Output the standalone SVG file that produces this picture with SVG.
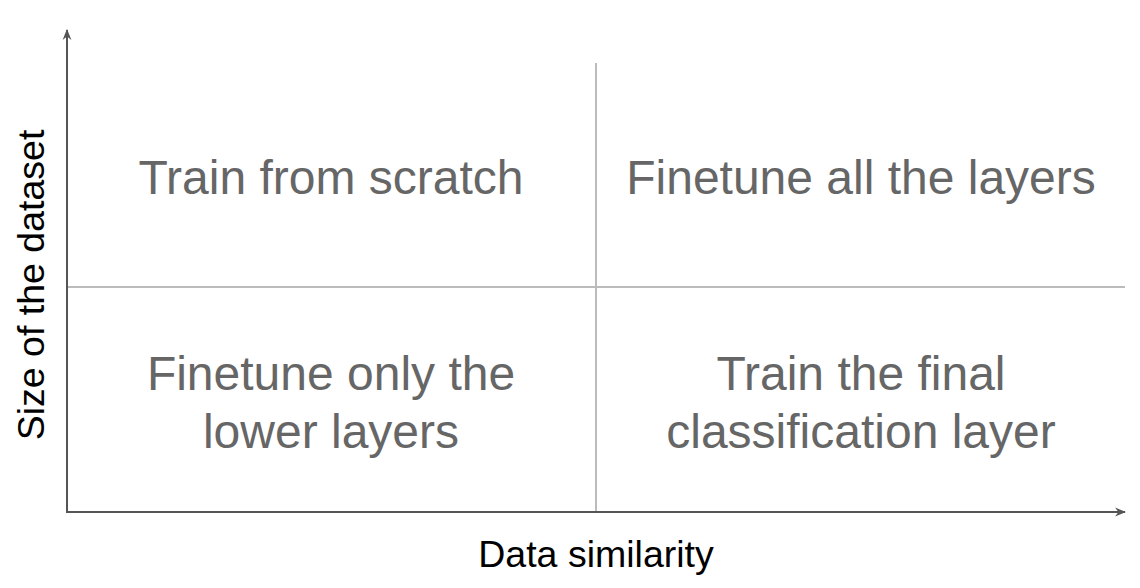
<svg xmlns="http://www.w3.org/2000/svg" width="1140" height="588" viewBox="0 0 1140 588">
  <style>
    .quad { font-family: "Liberation Sans", Arial, sans-serif; font-size: 48px; fill: #666666; text-anchor: middle; }
    .axis-label { font-family: "Liberation Sans", Arial, sans-serif; font-size: 37.5px; fill: #000000; text-anchor: middle; }
    .axis { stroke: #555555; stroke-width: 2; fill: none; }
    .grid { stroke: #bbbbbb; stroke-width: 2; fill: none; }
  </style>
  <defs>
    <marker id="arrow" viewBox="0 0 10 10" refX="9" refY="5" markerWidth="5.5" markerHeight="5.5" orient="auto" markerUnits="strokeWidth">
      <path d="M0,1 L10,5 L0,9 L3,5 Z" fill="#555555"/>
    </marker>
  </defs>
  <rect width="1140" height="588" fill="#ffffff"/>

  <g id="connectors">
    <line class="grid" x1="596" y1="63" x2="596" y2="512"/>
    <line class="grid" x1="67" y1="287" x2="1125" y2="287"/>
    <line class="axis" x1="67" y1="512" x2="67" y2="30" marker-end="url(#arrow)"/>
    <line class="axis" x1="66" y1="512" x2="1125" y2="512" marker-end="url(#arrow)"/>
  </g>

  <g id="train-from-scratch">
    <text class="quad" x="331" y="194">Train from scratch</text>
  </g>
  <g id="finetune-all">
    <text class="quad" x="861" y="194">Finetune all the layers</text>
  </g>
  <g id="finetune-lower">
    <text class="quad" x="331" y="390">Finetune only the</text>
    <text class="quad" x="331" y="448">lower layers</text>
  </g>
  <g id="train-final">
    <text class="quad" x="861" y="390">Train the final</text>
    <text class="quad" x="861" y="448">classification layer</text>
  </g>

  <g id="x-axis-label">
    <text class="axis-label" x="596" y="567">Data similarity</text>
  </g>
  <g id="y-axis-label">
    <text class="axis-label" transform="translate(44,285) rotate(-90)" x="0" y="0">Size of the dataset</text>
  </g>
</svg>
